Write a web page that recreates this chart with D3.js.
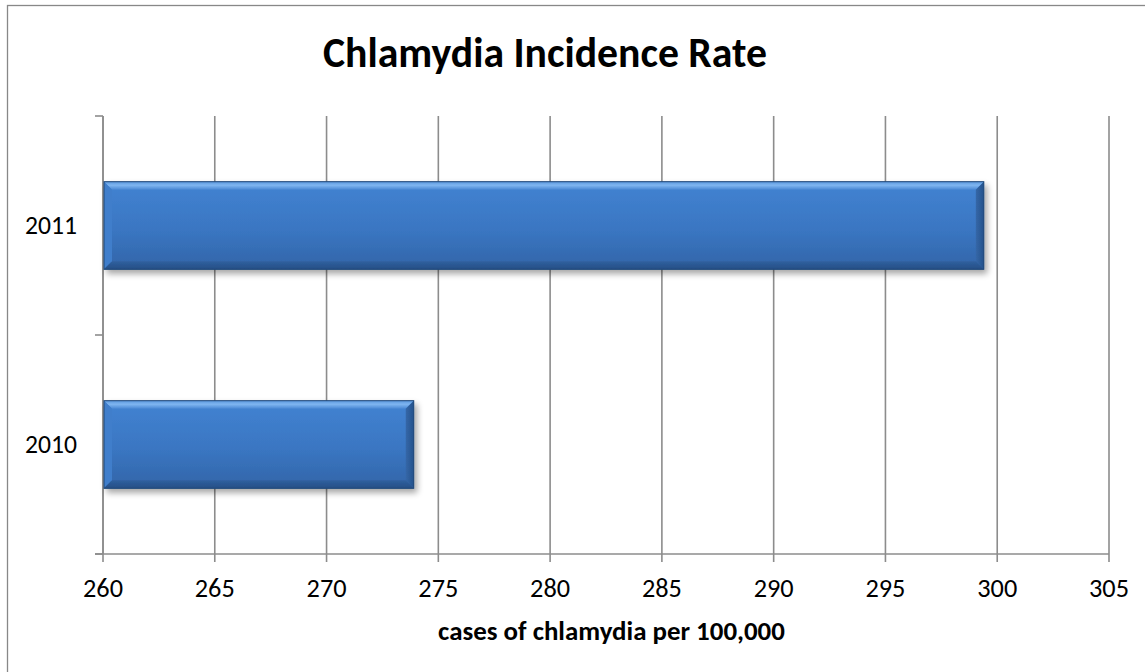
<!DOCTYPE html>
<html>
<head>
<meta charset="utf-8">
<script src="https://cdn.jsdelivr.net/npm/d3@7"></script>
<style>
  html, body { margin: 0; padding: 0; background: #fff; }
  svg { display: block; }
  text { font-family: Carlito, Lato, "Open Sans", sans-serif; fill: #000; }
</style>
</head>
<body>
<svg id="chart" width="1145" height="672"></svg>
<script>
// ---- data ----
const categories = ["2011", "2010"];
const values = [299.4, 273.9];
const xTicks = [260, 265, 270, 275, 280, 285, 290, 295, 300, 305];
const titleText = "Chlamydia Incidence Rate";
const xAxisTitle = "cases of chlamydia per 100,000";

// ---- layout ----
const W = 1145, H = 672;
const plot = { left: 103, right: 1109, top: 116, bottom: 554 };

const svg = d3.select("#chart");

// outer chart border (right/bottom fall outside the picture)
svg.append("rect")
  .attr("x", 7.5).attr("y", 5.5)
  .attr("width", 1200).attr("height", 700)
  .attr("fill", "#fff").attr("stroke", "#888").attr("stroke-width", 1.3);

const x = d3.scaleLinear().domain([260, 305]).range([plot.left, plot.right]);
const y = d3.scaleBand().domain(categories).range([plot.top, plot.bottom])
  .paddingInner(0.6).paddingOuter(0.3);

const gridColor = "#8c8c8c";

// defs: gradients and shadow
const defs = svg.append("defs");
const g1 = defs.append("linearGradient").attr("id", "barGrad")
  .attr("x1", 0).attr("y1", 0).attr("x2", 0).attr("y2", 1);
g1.append("stop").attr("offset", "0%").attr("stop-color", "#4283d2");
g1.append("stop").attr("offset", "55%").attr("stop-color", "#3a76c2");
g1.append("stop").attr("offset", "100%").attr("stop-color", "#3265a8");
const gTop = defs.append("linearGradient").attr("id", "topGrad")
  .attr("x1", 0).attr("y1", 0).attr("x2", 0).attr("y2", 1);
gTop.append("stop").attr("offset", "0%").attr("stop-color", "#5b98de");
gTop.append("stop").attr("offset", "45%").attr("stop-color", "#7fb5f0");
gTop.append("stop").attr("offset", "100%").attr("stop-color", "#4a88d4");
const gRight = defs.append("linearGradient").attr("id", "rightGrad")
  .attr("x1", 0).attr("y1", 0).attr("x2", 1).attr("y2", 0);
gRight.append("stop").attr("offset", "0%").attr("stop-color", "#3567a8");
gRight.append("stop").attr("offset", "100%").attr("stop-color", "#24528c");
const gBot = defs.append("linearGradient").attr("id", "botGrad")
  .attr("x1", 0).attr("y1", 0).attr("x2", 0).attr("y2", 1);
gBot.append("stop").attr("offset", "0%").attr("stop-color", "#2f609f");
gBot.append("stop").attr("offset", "100%").attr("stop-color", "#264f85");

const shadow = defs.append("filter").attr("id", "shadow")
  .attr("x", "-5%").attr("y", "-20%").attr("width", "115%").attr("height", "160%");
shadow.append("feGaussianBlur").attr("in", "SourceAlpha").attr("stdDeviation", 3).attr("result", "b");
shadow.append("feOffset").attr("in", "b").attr("dx", 3).attr("dy", 4).attr("result", "o");
shadow.append("feComponentTransfer").attr("in", "o").attr("result", "s")
  .append("feFuncA").attr("type", "linear").attr("slope", 0.35);
const merge = shadow.append("feMerge");
merge.append("feMergeNode").attr("in", "s");
merge.append("feMergeNode").attr("in", "SourceGraphic");

// vertical gridlines
svg.append("g").selectAll("line").data(xTicks).join("line")
  .attr("x1", d => x(d)).attr("x2", d => x(d))
  .attr("y1", plot.top).attr("y2", plot.bottom + 8)
  .attr("stroke", gridColor).attr("stroke-width", 1.6);

// x axis line
svg.append("line")
  .attr("x1", plot.left - 8).attr("x2", plot.right)
  .attr("y1", plot.bottom).attr("y2", plot.bottom)
  .attr("stroke", gridColor).attr("stroke-width", 1.6);

// y axis line and category boundary ticks
svg.append("line")
  .attr("x1", plot.left).attr("x2", plot.left)
  .attr("y1", plot.top).attr("y2", plot.bottom)
  .attr("stroke", gridColor).attr("stroke-width", 1.6);
const step = y.step();
const boundaries = d3.range(categories.length + 1).map(i => plot.top + i * (plot.bottom - plot.top) / categories.length);
svg.append("g").selectAll("line").data(boundaries).join("line")
  .attr("x1", plot.left - 8).attr("x2", plot.left)
  .attr("y1", d => d).attr("y2", d => d)
  .attr("stroke", gridColor).attr("stroke-width", 1.6);

// bars with bevel
const bars = svg.append("g").selectAll("g").data(categories.map((c, i) => ({ c, v: values[i] })))
  .join("g").attr("filter", "url(#shadow)");
const bev = 8;
bars.each(function(d) {
  const g = d3.select(this);
  const x0 = x(260) + 1, x1 = x(d.v);
  const y0 = y(d.c), y1 = y(d.c) + y.bandwidth();
  g.append("rect").attr("x", x0).attr("y", y0).attr("width", x1 - x0).attr("height", y1 - y0)
    .attr("fill", "url(#barGrad)");
  // top bevel
  g.append("polygon").attr("points", [[x0, y0], [x1, y0], [x1 - bev, y0 + bev], [x0 + bev, y0 + bev]].join(" "))
    .attr("fill", "url(#topGrad)");
  // left bevel
  g.append("polygon").attr("points", [[x0, y0], [x0 + bev, y0 + bev], [x0 + bev, y1 - bev], [x0, y1]].join(" "))
    .attr("fill", "#3f7ecb");
  // right bevel
  g.append("polygon").attr("points", [[x1, y0], [x1, y1], [x1 - bev, y1 - bev], [x1 - bev, y0 + bev]].join(" "))
    .attr("fill", "url(#rightGrad)");
  // bottom bevel
  g.append("polygon").attr("points", [[x0, y1], [x0 + bev, y1 - bev], [x1 - bev, y1 - bev], [x1, y1]].join(" "))
    .attr("fill", "url(#botGrad)");
  g.append("rect").attr("x", x0).attr("y", y0).attr("width", x1 - x0).attr("height", y1 - y0)
    .attr("fill", "none").attr("stroke", "#1f4777").attr("stroke-width", 1);
});

// fit text to a target width
function fit(sel, target) {
  const node = sel.node();
  const fs = parseFloat(sel.attr("font-size"));
  const w = node.getComputedTextLength();
  if (w > 0) sel.attr("font-size", (fs * target / w).toFixed(2));
}

// x tick labels
svg.append("g").selectAll("text").data(xTicks).join("text")
  .attr("x", d => x(d)).attr("y", 597)
  .attr("text-anchor", "middle").attr("font-size", 24)
  .text(d => d)
  .each(function() { fit(d3.select(this), 40); });

// y category labels
svg.append("g").selectAll("text").data(categories).join("text")
  .attr("x", 77).attr("y", d => y(d) + y.bandwidth() / 2 + 8.5)
  .attr("text-anchor", "end").attr("font-size", 24)
  .text(d => d)
  .each(function() { fit(d3.select(this), 52); });

// title
const t = svg.append("text").attr("x", 545).attr("y", 67)
  .attr("text-anchor", "middle").attr("font-size", 40).attr("font-weight", "bold")
  .text(titleText);
fit(t, 444);

// x axis title
const at = svg.append("text").attr("x", 611.5).attr("y", 640)
  .attr("text-anchor", "middle").attr("font-size", 19).attr("font-weight", "bold")
  .text(xAxisTitle);
fit(at, 347);
</script>
</body>
</html>
